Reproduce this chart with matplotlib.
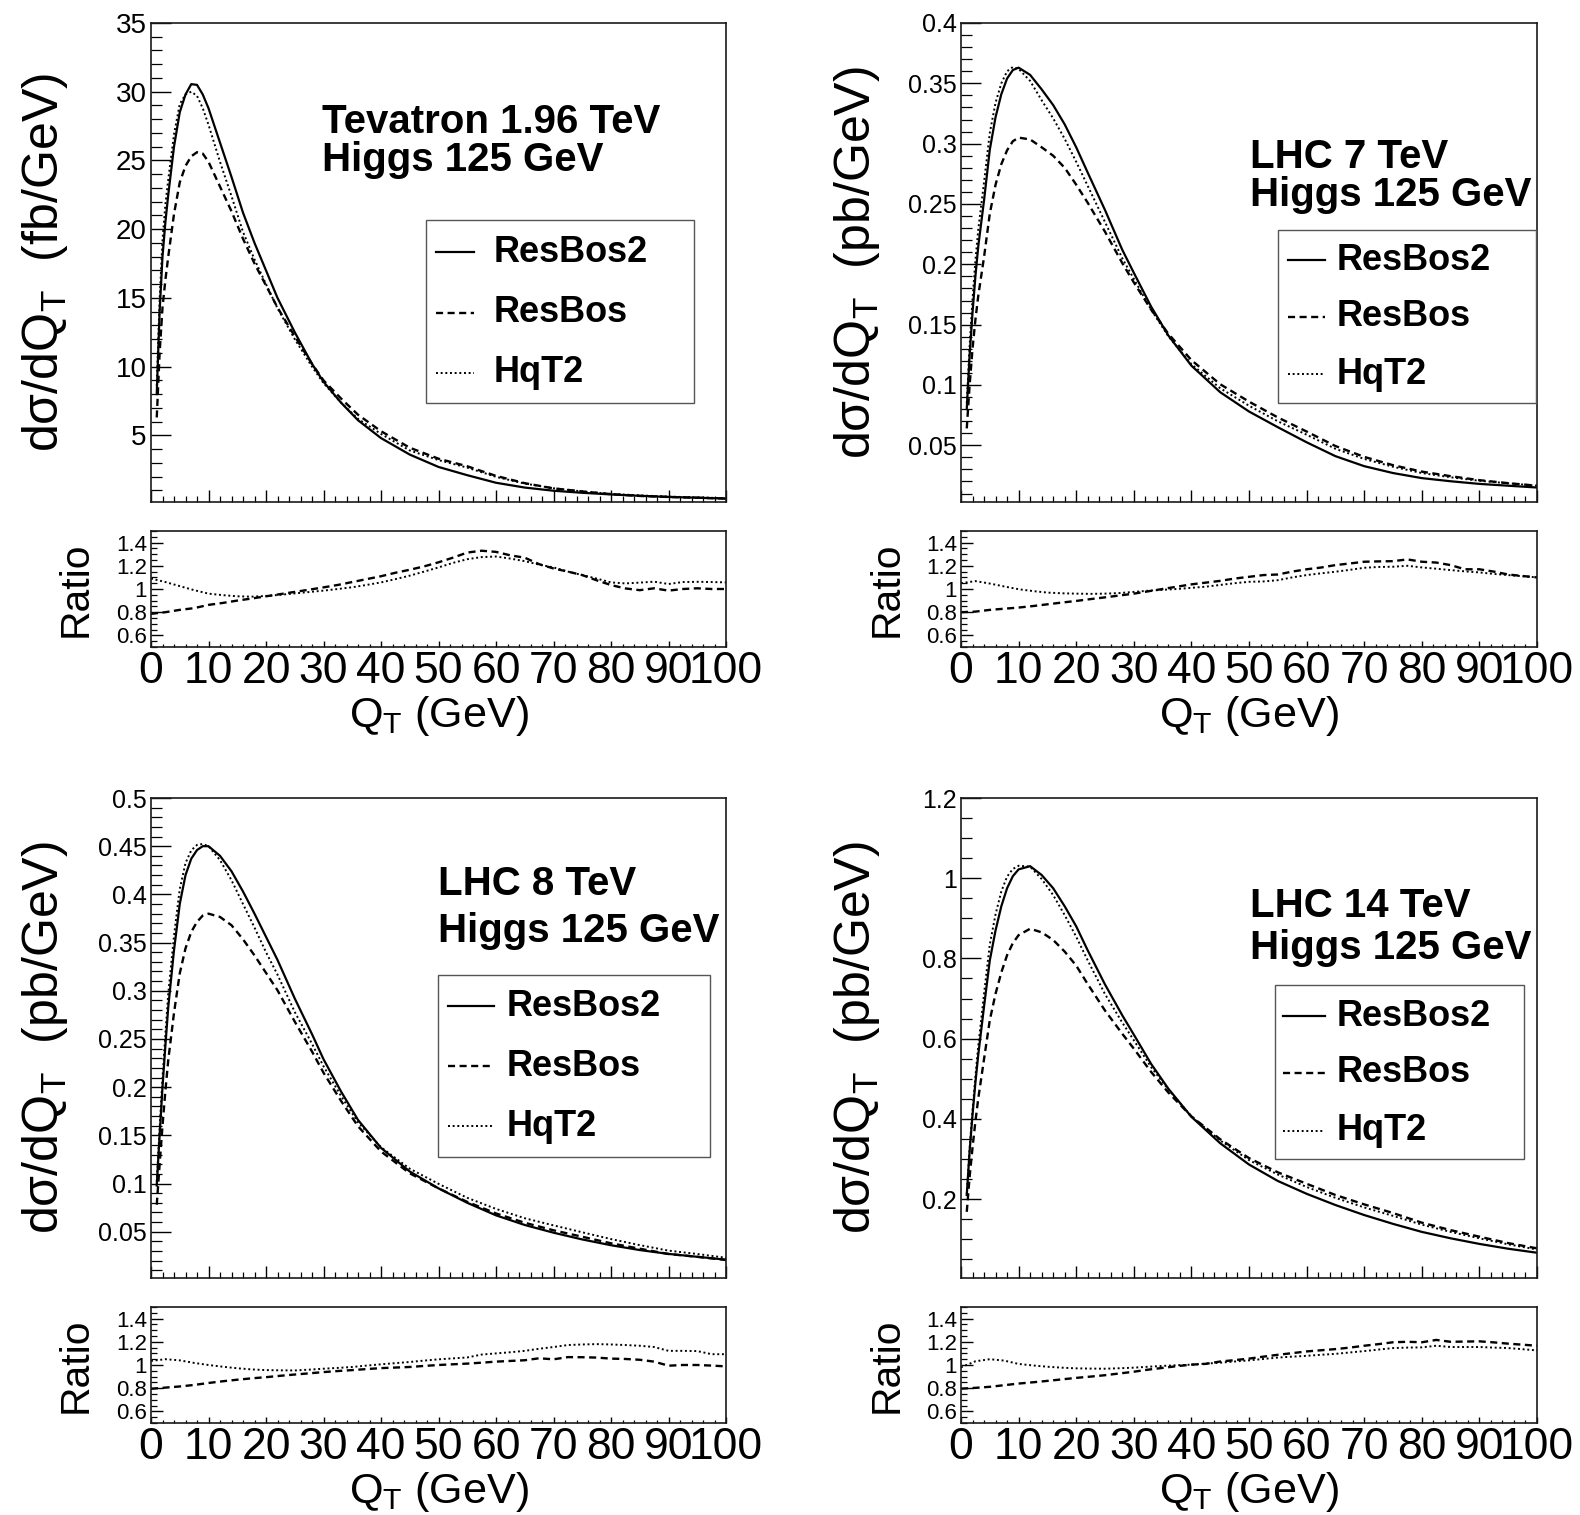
import matplotlib
matplotlib.use("Agg")
import matplotlib.pyplot as plt
from matplotlib import font_manager
from matplotlib.lines import Line2D
from matplotlib.patches import Rectangle
from matplotlib.ticker import MultipleLocator

# ---------------- data ----------------
QT = [1, 1.5, 2, 2.5, 3, 4, 5, 6, 7, 8, 9, 10, 12, 14, 16, 18, 20, 22, 25, 28,
      30, 33, 36, 40, 45, 50, 55, 60, 65, 70, 75, 80, 85, 90, 95, 100]

# Tevatron 1.96 TeV (fb/GeV)
tev_resbos2 = [8.0, 14.0, 18.0, 20.5, 22.5, 26.0, 28.5, 29.8, 30.55, 30.5, 29.8, 28.8,
               26.3, 23.8, 21.2, 19.0, 17.0, 15.0, 12.5, 10.2, 8.9, 7.4, 6.1, 4.8,
               3.6, 2.7, 2.1, 1.55, 1.2, 0.97, 0.82, 0.70, 0.60, 0.52, 0.46, 0.40]
tev_resbos = [6.3, 11.0, 14.3, 16.3, 18.0, 21.1, 23.4, 24.6, 25.3, 25.6, 25.5, 24.9,
              23.1, 21.3, 19.3, 17.5, 15.9, 14.3, 12.2, 10.2, 9.0, 7.7, 6.5, 5.3,
              4.1, 3.3, 2.75, 2.05, 1.52, 1.14, 0.92, 0.72, 0.59, 0.515, 0.46, 0.40]
tev_hqt2 = [8.6, 14.9, 19.2, 21.8, 23.6, 26.9, 29.1, 29.8, 30.0, 29.7, 28.8, 27.6,
            24.9, 22.4, 19.8, 17.8, 16.0, 14.25, 12.0, 10.0, 8.8, 7.4, 6.2, 5.1,
            3.9, 3.2, 2.65, 1.98, 1.49, 1.15, 0.92, 0.74, 0.63, 0.54, 0.49, 0.42]

# LHC 7 TeV (pb/GeV)
lhc7_resbos2 = [0.08, 0.125, 0.16, 0.19, 0.215, 0.253, 0.295, 0.322, 0.341, 0.354, 0.361, 0.363,
                0.357, 0.345, 0.332, 0.316, 0.297, 0.276, 0.245, 0.212, 0.193, 0.165, 0.141, 0.116,
                0.094, 0.078, 0.065, 0.0525, 0.041, 0.0327, 0.027, 0.0228, 0.0202, 0.018, 0.0165, 0.0150]
lhc7_resbos = [0.064, 0.10, 0.13, 0.154, 0.174, 0.206, 0.242, 0.266, 0.283, 0.2945, 0.302, 0.305,
               0.3035, 0.297, 0.290, 0.280, 0.266, 0.251, 0.227, 0.201, 0.185, 0.1625, 0.1424, 0.1206,
               0.1006, 0.0862, 0.0731, 0.0614, 0.0494, 0.0404, 0.0335, 0.0282, 0.0244, 0.0211, 0.0186, 0.0165]
lhc7_hqt2 = [0.085, 0.133, 0.171, 0.203, 0.229, 0.268, 0.309, 0.334, 0.350, 0.360, 0.3635, 0.362,
             0.352, 0.336, 0.321, 0.304, 0.285, 0.265, 0.235, 0.205, 0.188, 0.1625, 0.1403, 0.1172,
             0.0973, 0.0828, 0.0699, 0.0588, 0.0471, 0.0387, 0.0322, 0.027, 0.0235, 0.0206, 0.0185, 0.0165]

# LHC 8 TeV (pb/GeV)
lhc8_resbos2 = [0.098, 0.15, 0.20, 0.243, 0.283, 0.342, 0.39, 0.42, 0.437, 0.446, 0.450, 0.450,
                0.440, 0.424, 0.403, 0.38, 0.356, 0.332, 0.292, 0.255, 0.229, 0.196, 0.166, 0.137,
                0.1125, 0.095, 0.080, 0.067, 0.057, 0.049, 0.042, 0.036, 0.031, 0.027, 0.024, 0.021]
lhc8_resbos = [0.078, 0.12, 0.16, 0.196, 0.228, 0.277, 0.318, 0.344, 0.361, 0.3715, 0.378, 0.380,
               0.3766, 0.368, 0.3534, 0.3367, 0.3186, 0.3005, 0.268, 0.237, 0.215, 0.1862, 0.1594, 0.1333,
               0.1106, 0.095, 0.081, 0.069, 0.0593, 0.0515, 0.0448, 0.038, 0.0324, 0.0269, 0.024, 0.0207]
lhc8_hqt2 = [0.102, 0.157, 0.21, 0.255, 0.297, 0.357, 0.4055, 0.4325, 0.4457, 0.4513, 0.4523, 0.450,
             0.4356, 0.4147, 0.390, 0.3656, 0.340, 0.3167, 0.278, 0.245, 0.2217, 0.1913, 0.1635, 0.1377,
             0.1154, 0.0997, 0.0852, 0.0737, 0.064, 0.0566, 0.0494, 0.0424, 0.0361, 0.0304, 0.0269, 0.023]

# LHC 14 TeV (pb/GeV)
lhc14_resbos2 = [0.21, 0.32, 0.41, 0.49, 0.56, 0.68, 0.795, 0.87, 0.93, 0.975, 1.005, 1.022,
                 1.03, 1.008, 0.975, 0.93, 0.88, 0.82, 0.735, 0.658, 0.61, 0.537, 0.475, 0.405,
                 0.339, 0.286, 0.245, 0.213, 0.185, 0.160, 0.138, 0.118, 0.102, 0.088, 0.076, 0.066]
lhc14_resbos = [0.168, 0.256, 0.328, 0.393, 0.451, 0.549, 0.646, 0.712, 0.765, 0.808, 0.838, 0.858,
                0.874, 0.865, 0.846, 0.817, 0.782, 0.736, 0.670, 0.612, 0.575, 0.517, 0.4655, 0.406,
                0.349, 0.302, 0.2666, 0.238, 0.210, 0.1866, 0.165, 0.141, 0.1224, 0.106, 0.090, 0.077]
lhc14_hqt2 = [0.212, 0.326, 0.421, 0.506, 0.582, 0.712, 0.835, 0.91, 0.967, 1.004, 1.023, 1.031,
              1.029, 0.998, 0.958, 0.908, 0.854, 0.795, 0.711, 0.640, 0.596, 0.529, 0.473, 0.406,
              0.346, 0.297, 0.261, 0.230, 0.203, 0.179, 0.158, 0.136, 0.118, 0.102, 0.087, 0.074]

# ratio panels (X / ResBos2)
QR = [0, 2.5, 5, 7.5, 10, 12.5, 15, 17.5, 20, 22.5, 25, 27.5, 30, 32.5, 35, 37.5, 40,
      42.5, 45, 47.5, 50, 52.5, 55, 57.5, 60, 62.5, 65, 67.5, 70, 72.5, 75, 77.5, 80,
      82.5, 85, 87.5, 90, 92.5, 95, 97.5, 100]
tev_r_resbos = [0.786, 0.80, 0.82, 0.835, 0.863, 0.88, 0.90, 0.918, 0.937, 0.956, 0.975, 0.994,
                1.014, 1.035, 1.06, 1.085, 1.11, 1.14, 1.166, 1.195, 1.23, 1.27, 1.314, 1.33,
                1.32, 1.29, 1.27, 1.214, 1.177, 1.15, 1.12, 1.075, 1.034, 1.005, 0.99, 1.006,
                0.986, 1.0, 1.006, 1.0, 1.0]
tev_r_hqt2 = [1.09, 1.06, 1.025, 0.99, 0.96, 0.947, 0.937, 0.934, 0.94, 0.95, 0.962, 0.974,
              0.986, 1.0, 1.015, 1.035, 1.057, 1.085, 1.115, 1.15, 1.186, 1.225, 1.257, 1.275,
              1.28, 1.262, 1.24, 1.21, 1.186, 1.15, 1.12, 1.09, 1.057, 1.048, 1.055, 1.063,
              1.043, 1.06, 1.062, 1.06, 1.057]
lhc7_r_resbos = [0.80, 0.805, 0.82, 0.83, 0.84, 0.853, 0.868, 0.883, 0.897, 0.913, 0.928, 0.944,
                 0.96, 0.98, 1.0, 1.02, 1.04, 1.055, 1.07, 1.09, 1.105, 1.12, 1.125, 1.15,
                 1.17, 1.185, 1.206, 1.22, 1.235, 1.238, 1.24, 1.255, 1.235, 1.228, 1.206, 1.17,
                 1.17, 1.15, 1.125, 1.112, 1.10]
lhc7_r_hqt2 = [1.05, 1.068, 1.047, 1.022, 0.998, 0.982, 0.969, 0.963, 0.96, 0.958, 0.96, 0.965,
               0.975, 0.985, 0.993, 1.0, 1.01, 1.02, 1.035, 1.05, 1.062, 1.065, 1.076, 1.1,
               1.12, 1.135, 1.149, 1.165, 1.183, 1.19, 1.192, 1.2, 1.186, 1.175, 1.163, 1.152,
               1.143, 1.13, 1.12, 1.11, 1.10]
lhc8_r_resbos = [0.795, 0.805, 0.815, 0.828, 0.845, 0.86, 0.873, 0.885, 0.895, 0.907, 0.918, 0.928,
                 0.939, 0.948, 0.956, 0.965, 0.973, 0.978, 0.983, 0.992, 1.0, 1.006, 1.012, 1.02,
                 1.029, 1.035, 1.041, 1.058, 1.049, 1.068, 1.067, 1.064, 1.055, 1.052, 1.045, 1.029,
                 0.994, 1.0, 1.0, 0.995, 0.988]
lhc8_r_hqt2 = [1.035, 1.05, 1.04, 1.018, 1.0, 0.985, 0.972, 0.962, 0.956, 0.954, 0.953, 0.96,
               0.968, 0.975, 0.983, 0.995, 1.006, 1.016, 1.026, 1.038, 1.049, 1.057, 1.065, 1.09,
               1.1, 1.11, 1.122, 1.14, 1.155, 1.172, 1.177, 1.18, 1.177, 1.172, 1.166, 1.155,
               1.122, 1.122, 1.12, 1.093, 1.093]
lhc14_r_resbos = [0.796, 0.803, 0.812, 0.826, 0.84, 0.851, 0.863, 0.876, 0.889, 0.9, 0.912, 0.927,
                  0.942, 0.96, 0.975, 0.99, 1.003, 1.01, 1.03, 1.042, 1.055, 1.072, 1.088, 1.102,
                  1.117, 1.127, 1.137, 1.15, 1.166, 1.18, 1.196, 1.2, 1.196, 1.216, 1.2, 1.202,
                  1.204, 1.195, 1.184, 1.175, 1.166]
lhc14_r_hqt2 = [0.98, 1.032, 1.05, 1.038, 1.009, 0.996, 0.985, 0.977, 0.971, 0.969, 0.968, 0.972,
                0.977, 0.985, 0.992, 0.998, 1.003, 1.012, 1.02, 1.03, 1.04, 1.052, 1.064, 1.072,
                1.079, 1.088, 1.096, 1.108, 1.12, 1.133, 1.146, 1.15, 1.152, 1.166, 1.155, 1.155,
                1.155, 1.15, 1.146, 1.136, 1.126]

series_names = ["ResBos2", "ResBos", "HqT2"]
x_ticks = [0, 10, 20, 30, 40, 50, 60, 70, 80, 90, 100]
x_ticklabels = ["0", "10", "20", "30", "40", "50", "60", "70", "80", "90", "100"]
ratio_ticks = [0.6, 0.8, 1.0, 1.2, 1.4]
ratio_ticklabels = ["0.6", "0.8", "1", "1.2", "1.4"]

tev_yticks = ["5", "10", "15", "20", "25", "30", "35"]
lhc7_yticks = ["0.05", "0.1", "0.15", "0.2", "0.25", "0.3", "0.35", "0.4"]
lhc8_yticks = ["0.05", "0.1", "0.15", "0.2", "0.25", "0.3", "0.35", "0.4", "0.45", "0.5"]
lhc14_yticks = ["0.2", "0.4", "0.6", "0.8", "1", "1.2"]

# ---------------- fonts ----------------
names = {f.name for f in font_manager.fontManager.ttflist}
SANS = "Liberation Sans" if "Liberation Sans" in names else "DejaVu Sans"
HAS_NARROW = "Liberation Sans Narrow" in names
NARROW = "Liberation Sans Narrow" if HAS_NARROW else SANS
NS = 1.0 if HAS_NARROW else 0.84
plt.rcParams["font.family"] = [SANS, "DejaVu Sans"]
plt.rcParams["mathtext.fontset"] = "custom"
plt.rcParams["mathtext.rm"] = NARROW
plt.rcParams["mathtext.it"] = NARROW + ":italic"
plt.rcParams["mathtext.bf"] = NARROW + ":bold"

# ---------------- layout ----------------
W, H = 1580, 1515
fig = plt.figure(figsize=(W / 100, H / 100), dpi=100)


def fx(x):
    return x / W


def fy(y):
    return 1 - y / H


def add_axes(x0, x1, y0, y1):
    return fig.add_axes([fx(x0), fy(y1), (x1 - x0) / W, (y1 - y0) / H])


STYLES = [dict(color="black", lw=1.6, ls="-"),
          dict(color="black", lw=1.7, ls=(0, (3.0, 1.9))),
          dict(color="black", lw=1.4, ls=(0, (1.0, 1.4)))]

panels = [
    dict(main=(tev_resbos2, tev_resbos, tev_hqt2), ratio=(tev_r_resbos, tev_r_hqt2),
         yticks=tev_yticks, ylim=(0.15, 35), minor=1, unit="fb/GeV", ytsize=20,
         cols=(151, 726), rows=((23, 502), (531, 647)),
         title=("Tevatron 1.96 TeV", "Higgs 125 GeV"), tpos=(322.5, 133, 171),
         legbox=(426, 220, 694, 403), legy=(252, 313, 373), legline=(436, 474), legtext=494,
         ylab_x=45, ratio_x=75.5, xlab_y=716, rlab_y=589),
    dict(main=(lhc7_resbos2, lhc7_resbos, lhc7_hqt2), ratio=(lhc7_r_resbos, lhc7_r_hqt2),
         yticks=lhc7_yticks, ylim=(0.003, 0.4), minor=0.01, unit="pb/GeV", ytsize=18,
         cols=(961, 1537), rows=((23, 502), (531, 647)),
         title=("LHC 7 TeV", "Higgs 125 GeV"), tpos=(1249.5, 168, 206.5),
         legbox=(1278, 230, 1536, 403), legy=(260, 317, 374), legline=(1288, 1325), legtext=1337,
         ylab_x=856.5, ratio_x=887, xlab_y=716, rlab_y=589),
    dict(main=(lhc8_resbos2, lhc8_resbos, lhc8_hqt2), ratio=(lhc8_r_resbos, lhc8_r_hqt2),
         yticks=lhc8_yticks, ylim=(0.002, 0.5), minor=0.01, unit="pb/GeV", ytsize=18,
         cols=(151, 726), rows=((798, 1278), (1307, 1423)),
         title=("LHC 8 TeV", "Higgs 125 GeV"), tpos=(438, 895, 942),
         legbox=(438, 975, 710, 1157), legy=(1006, 1066, 1126), legline=(448, 494), legtext=507,
         ylab_x=45, ratio_x=75.5, xlab_y=1492, rlab_y=1365),
    dict(main=(lhc14_resbos2, lhc14_resbos, lhc14_hqt2), ratio=(lhc14_r_resbos, lhc14_r_hqt2),
         yticks=lhc14_yticks, ylim=(0.003, 1.2), minor=0.05, unit="pb/GeV", ytsize=18,
         cols=(961, 1537), rows=((798, 1278), (1307, 1423)),
         title=("LHC 14 TeV", "Higgs 125 GeV"), tpos=(1249.5, 917, 959),
         legbox=(1275, 985, 1524, 1159), legy=(1016, 1073, 1131), legline=(1283, 1325), legtext=1337,
         ylab_x=856.5, ratio_x=887, xlab_y=1492, rlab_y=1365),
]


def frame(ax):
    for sp in ax.spines.values():
        sp.set_linewidth(1.2)
        sp.set_color("#1a1a1a")


for p in panels:
    x0, x1 = p["cols"]
    (m0, m1), (r0, r1) = p["rows"]

    # ---- main pad ----
    ax = add_axes(x0, x1, m0, m1)
    for vals, st in zip(p["main"], STYLES):
        ax.plot(QT, vals, **st)
    ax.set_xlim(0, 100)
    ax.set_ylim(*p["ylim"])
    ax.set_xticks(x_ticks)
    ax.xaxis.set_minor_locator(MultipleLocator(2))
    ax.set_yticks([float(s) for s in p["yticks"]], p["yticks"])
    ax.yaxis.set_minor_locator(MultipleLocator(p["minor"]))
    ax.tick_params(axis="both", which="both", direction="in", top=False, right=False,
                   labelbottom=False)
    ax.tick_params(axis="y", which="major", length=14.5, width=1.0, labelsize=p["ytsize"], pad=3)
    ax.tick_params(axis="y", which="minor", length=7.7, width=0.9)
    ax.tick_params(axis="x", which="major", length=8.6, width=1.0)
    ax.tick_params(axis="x", which="minor", length=4.3, width=0.9)
    frame(ax)

    # ---- ratio pad ----
    ar = add_axes(x0, x1, r0, r1)
    for vals, st in zip(p["ratio"], STYLES[1:]):
        ar.plot(QR, vals, **st)
    ar.set_xlim(0, 100)
    ar.set_ylim(0.5, 1.5)
    ar.set_xticks(x_ticks, x_ticklabels)
    ar.xaxis.set_minor_locator(MultipleLocator(2))
    ar.set_yticks(ratio_ticks, ratio_ticklabels)
    ar.yaxis.set_minor_locator(MultipleLocator(0.05))
    ar.tick_params(axis="both", which="both", direction="in", top=False, right=False)
    ar.tick_params(axis="y", which="major", length=8.6, width=1.0, labelsize=16, pad=3)
    ar.tick_params(axis="y", which="minor", length=4.3, width=0.9)
    ar.tick_params(axis="x", which="major", length=4.5, width=1.0, labelsize=32, pad=3)
    ar.tick_params(axis="x", which="minor", length=2.3, width=0.9)
    frame(ar)

    # ---- axis titles ----
    fig.text(fx(p["ylab_x"]), fy((m0 + m1) / 2),
             "dσ/dQ$_{\\rm T}$  (" + p["unit"] + ")", rotation=90,
             ha="center", va="center", fontsize=43 * NS, family=[NARROW, "DejaVu Sans"])
    fig.text(fx(p["ratio_x"]), fy(p["rlab_y"]), "Ratio", rotation=90,
             ha="center", va="center", fontsize=35 * NS, family=[NARROW, "DejaVu Sans"])
    fig.text(fx((x0 + x1) / 2), fy(p["xlab_y"]), "Q$_{\\rm T}$ (GeV)",
             ha="center", va="center", fontsize=37 * NS, family=[NARROW, "DejaVu Sans"])

    # ---- panel label ----
    tx, ty1, ty2 = p["tpos"]
    fig.text(fx(tx), fy(ty1), p["title"][0], ha="left", va="baseline",
             fontsize=29, fontweight="bold")
    fig.text(fx(tx), fy(ty2), p["title"][1], ha="left", va="baseline",
             fontsize=29, fontweight="bold")

    # ---- legend ----
    bx0, by0, bx1, by1 = p["legbox"]
    fig.add_artist(Rectangle((fx(bx0), fy(by1)), (bx1 - bx0) / W, (by1 - by0) / H,
                             transform=fig.transFigure, facecolor="white",
                             edgecolor="#555555", lw=1.0, zorder=5))
    lx0, lx1 = p["legline"]
    for name, st, ly in zip(series_names, STYLES, p["legy"]):
        fig.add_artist(Line2D([fx(lx0), fx(lx1)], [fy(ly), fy(ly)],
                              transform=fig.transFigure, zorder=6, **st))
        fig.text(fx(p["legtext"]), fy(ly), name, ha="left", va="center",
                 fontsize=26, fontweight="bold", zorder=6)

fig.savefig("out.png", dpi=100, facecolor="white")
